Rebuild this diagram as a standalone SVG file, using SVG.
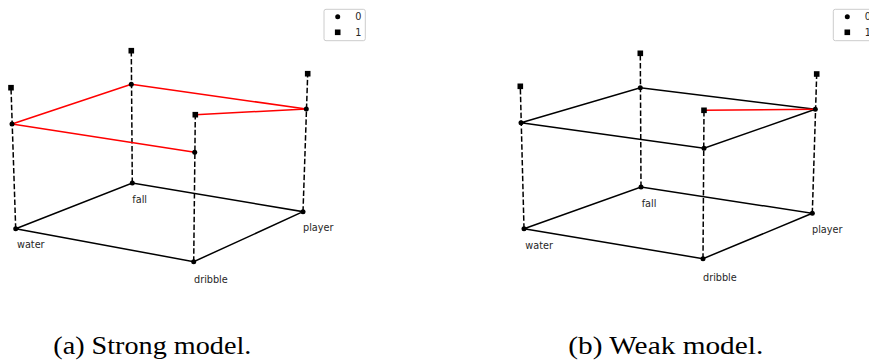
<svg xmlns="http://www.w3.org/2000/svg" width="869" height="361" viewBox="0 0 869 361">
<style>
.bg{fill:#fff}
.edge{stroke:#000;stroke-width:1.5;fill:none}
.red{stroke:#f00;stroke-width:1.5;fill:none}
.dash{stroke:#000;stroke-width:1.5;stroke-dasharray:5.5 2.4;fill:none}
.lbl{font-family:"DejaVu Sans",sans-serif;font-size:9.7px;fill:#262626}
.leg{font-family:"DejaVu Sans",sans-serif;font-size:9.7px;fill:#262626;text-anchor:middle}
.legbox{fill:#fff;fill-opacity:0.8;stroke:#ccc;stroke-width:1}
.cap{font-family:"Liberation Serif",serif;font-size:25px;fill:#000}
</style>
<defs>
<circle id="dot" r="2.5" fill="#000"/>
<rect id="sq" x="-2.8" y="-2.8" width="5.6" height="5.6" fill="#000"/>
</defs>
<rect class="bg" x="0" y="0" width="869" height="361"/>

<!-- Panel (a) -->
<g id="connectors-a">
<line class="dash" x1="15.7" y1="228.7" x2="11" y2="87.7"/>
<line class="dash" x1="132.3" y1="183" x2="131.3" y2="50.7"/>
<line class="dash" x1="303" y1="211.7" x2="307.7" y2="73.7"/>
<line class="dash" x1="193.7" y1="261.7" x2="195.3" y2="114.7"/>
<polyline class="edge" points="15.7,228.7 132.3,183 303,211.7 193.7,261.7 15.7,228.7"/>
<line class="red" x1="12" y1="124" x2="131.3" y2="84.3"/>
<line class="red" x1="12" y1="124" x2="194.7" y2="152.3"/>
<line class="red" x1="131.3" y1="84.3" x2="306.3" y2="109"/>
<line class="red" x1="195.3" y1="114.7" x2="306.3" y2="109"/>
</g>
<g id="a-water"><use href="#dot" x="15.7" y="228.7"/><use href="#dot" x="12" y="124"/><use href="#sq" x="11" y="87.7"/><text class="lbl" x="17" y="248.4">water</text></g>
<g id="a-fall"><use href="#dot" x="132.3" y="183"/><use href="#dot" x="131.3" y="84.3"/><use href="#sq" x="131.3" y="50.7"/><text class="lbl" x="132.3" y="202.8">fall</text></g>
<g id="a-player"><use href="#dot" x="303" y="211.7"/><use href="#dot" x="306.3" y="109"/><use href="#sq" x="307.7" y="73.7"/><text class="lbl" x="303" y="230.8">player</text></g>
<g id="a-dribble"><use href="#dot" x="193.7" y="261.7"/><use href="#dot" x="194.7" y="152.3"/><use href="#sq" x="195.3" y="114.7"/><text class="lbl" x="194" y="282.9">dribble</text></g>
<g id="a-legend">
<rect class="legbox" x="324" y="9.3" width="41.3" height="31.4" rx="2"/>
<use href="#dot" x="337.7" y="16.7"/><text class="leg" x="358.3" y="20.1">0</text>
<use href="#sq" x="337.7" y="32.3"/><text class="leg" x="358.3" y="35.7">1</text>
</g>
<text id="caption-a" class="cap" x="53.3" y="354.3" textLength="198" lengthAdjust="spacingAndGlyphs">(a) Strong model.</text>

<!-- Panel (b) -->
<g id="connectors-b">
<line class="dash" x1="524" y1="228.7" x2="520.3" y2="86.3"/>
<line class="dash" x1="641" y1="187" x2="640.3" y2="53.3"/>
<line class="dash" x1="812.3" y1="213.3" x2="816.7" y2="74"/>
<line class="dash" x1="703" y1="258.7" x2="704" y2="110.3"/>
<polyline class="edge" points="524,228.7 641,187 812.3,213.3 703,258.7 524,228.7"/>
<polyline class="edge" points="521,122.7 640.3,87.7 815.3,109.3 704,148.3 521,122.7"/>
<line class="red" x1="704" y1="110.3" x2="815.3" y2="109.3"/>
</g>
<g id="b-water"><use href="#dot" x="524" y="228.7"/><use href="#dot" x="521" y="122.7"/><use href="#sq" x="520.3" y="86.3"/><text class="lbl" x="525.3" y="249.4">water</text></g>
<g id="b-fall"><use href="#dot" x="641" y="187"/><use href="#dot" x="640.3" y="87.7"/><use href="#sq" x="640.3" y="53.3"/><text class="lbl" x="641.7" y="206.8">fall</text></g>
<g id="b-player"><use href="#dot" x="812.3" y="213.3"/><use href="#dot" x="815.3" y="109.3"/><use href="#sq" x="816.7" y="74"/><text class="lbl" x="812" y="233.2">player</text></g>
<g id="b-dribble"><use href="#dot" x="703" y="258.7"/><use href="#dot" x="704" y="148.3"/><use href="#sq" x="704" y="110.3"/><text class="lbl" x="703" y="280.9">dribble</text></g>
<g id="b-legend">
<rect class="legbox" x="833.3" y="9.3" width="41.3" height="31.4" rx="2"/>
<use href="#dot" x="847.3" y="16.7"/><text class="leg" x="867.9" y="20.1">0</text>
<use href="#sq" x="847.3" y="32.3"/><text class="leg" x="867.9" y="35.7">1</text>
</g>
<text id="caption-b" class="cap" x="568.3" y="354.3" textLength="195" lengthAdjust="spacingAndGlyphs">(b) Weak model.</text>
</svg>
